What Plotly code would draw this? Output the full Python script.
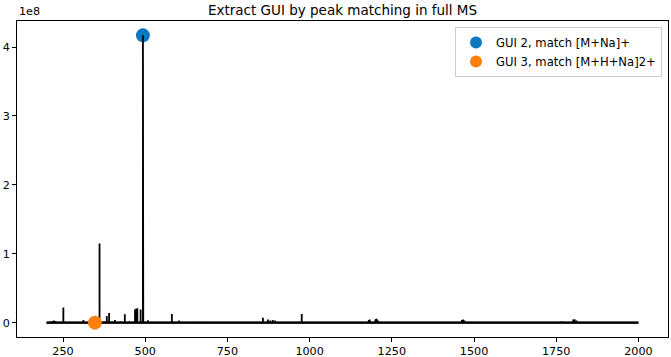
import plotly.graph_objects as go

# Peak list (m/z) and intensities (in units of 1e8)
mz = [215, 222, 227, 251, 290, 312, 330, 340, 361, 375, 383, 390, 400, 408, 425,
      438, 450, 469, 472, 476, 486, 493, 494, 508, 540, 581, 603, 666, 744, 820,
      858, 873, 880, 888, 895, 976, 1056, 1180, 1183, 1200, 1204, 1208, 1350,
      1463, 1467, 1471, 1766, 1802, 1806, 1812]
intensity_e8 = [0.025, 0.03, 0.02, 0.22, 0.01, 0.04, 0.02, 0.05, 1.15, 0.02, 0.095,
                0.14, 0.02, 0.04, 0.02, 0.12, 0.02, 0.19, 0.20, 0.21, 0.19, 4.17,
                0.97, 0.035, 0.01, 0.125, 0.03, 0.015, 0.01, 0.01, 0.07, 0.045,
                0.03, 0.04, 0.03, 0.125, 0.01, 0.04, 0.045, 0.05, 0.055, 0.03,
                0.008, 0.04, 0.045, 0.03, 0.02, 0.045, 0.05, 0.03]
mz_start, mz_end = 200, 2000

match_names = ["GUI 2, match [M+Na]+", "GUI 3, match [M+H+Na]2+"]
match_mz = [493, 347]
match_int_e8 = [4.17, 0.0]
match_colors = ["#0a78c0", "#ff7f0e"]

yticks = [0, 1, 2, 3, 4]
xticks = [250, 500, 750, 1000, 1250, 1500, 1750, 2000]

scale = 1e8
sx, sy = [mz_start], [0]
for m, h in zip(mz, intensity_e8):
    sx += [m, m, m]
    sy += [0, h * scale, 0]
sx.append(mz_end)
sy.append(0)

fig = go.Figure()
fig.add_trace(go.Scatter(x=[match_mz[0]], y=[match_int_e8[0] * scale], mode="markers",
                         name=match_names[0],
                         marker=dict(color=match_colors[0], size=14)))
fig.add_trace(go.Scatter(x=[mz_start, mz_end], y=[0, 0], mode="lines",
                         line=dict(color="black", width=2.2), showlegend=False,
                         hoverinfo="skip"))
fig.add_trace(go.Scatter(x=sx, y=sy, mode="lines", line=dict(color="black", width=1.8),
                         showlegend=False))
fig.add_trace(go.Scatter(x=[match_mz[1]], y=[match_int_e8[1] * scale], mode="markers",
                         name=match_names[1],
                         marker=dict(color=match_colors[1], size=14)))

font = "DejaVu Sans, Verdana, sans-serif"
fig.update_layout(
    width=671, height=357,
    margin=dict(l=17, r=3, t=21, b=20),
    paper_bgcolor="white", plot_bgcolor="white",
    font=dict(family=font, size=11, color="black"),
    title=dict(text="Extract GUI by peak matching in full MS", x=(17 + 668) / 2 / 671,
               xanchor="center", y=1 - 10.5 / 357, yanchor="middle",
               font=dict(size=13.5, family=font, color="black")),
    showlegend=True,
    legend=dict(x=0.9908, y=0.981, xanchor="right", yanchor="top",
                bgcolor="rgba(255,255,255,0.8)", bordercolor="#cccccc", borderwidth=1,
                font=dict(size=11.6, family=font), itemsizing="constant",
                tracegroupgap=0),
    xaxis=dict(range=[110, 2090], tickvals=xticks, ticks="outside", ticklen=4,
               tickcolor="black", showline=True, linecolor="black", linewidth=1,
               mirror=True, showgrid=False, zeroline=False, automargin=False,
               tickfont=dict(size=11.2)),
    yaxis=dict(range=[-0.2085 * scale, 4.378 * scale], tickvals=[v * scale for v in yticks],
               ticktext=[str(v) for v in yticks], ticks="outside", ticklen=4,
               tickcolor="black", showline=True, linecolor="black", linewidth=1,
               mirror=True, showgrid=False, zeroline=False, automargin=False,
               tickfont=dict(size=11.2)),
    annotations=[dict(text="1e8", xref="paper", yref="paper", x=0, y=1, xanchor="left",
                      yanchor="bottom", showarrow=False, font=dict(size=11.2, family=font),
                      yshift=1)],
)

fig.write_html("out.html", config={"displayModeBar": False},
               post_script="document.body.style.margin='0';document.body.style.overflow='hidden';")
